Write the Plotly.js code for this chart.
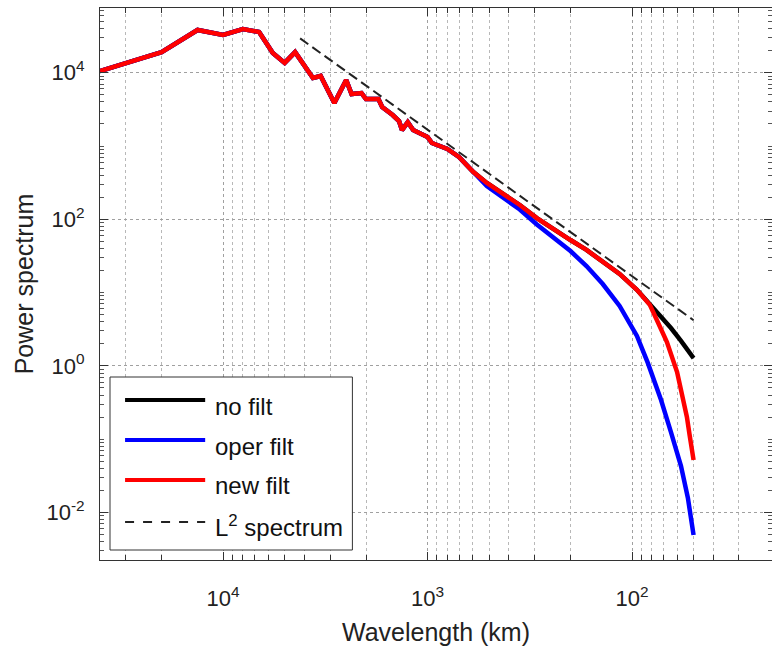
<!DOCTYPE html>
<html>
<head>
<meta charset="utf-8">
<script src="https://cdn.plot.ly/plotly-3.0.1.min.js"></script>
<style>html,body{margin:0;padding:0;background:#fff;overflow:hidden}</style>
</head>
<body>
<div id="chart" style="width:772px;height:653px"></div>
<script>
// ---- Data (wavelength in km, power spectrum) ----
const redWavelength = [40000,20000,13333,10000,8000,6667,5714,5000,4444,3636,3333,2857,2500,2353,2105,2000,1739,1667,1481,1379,1333,1250,1176,1081,1000,952,800,702,597,513,430,354,292,244,200,167,139,115,94.6,81.8,75.6,67.5,60.2,56.3,53.9,52.2,50];
const redPower      = [10540,19100,38300,32700,39500,35900,18600,13600,19100,8470,9020,3860,7950,5120,5280,4370,4370,3400,2650,2190,1650,2120,1650,1500,1330,1100,910,708,442,313,229,157,104,73.8,52.2,38.2,26.2,18.0,10.9,6.8,4.23,2.12,0.826,0.365,0.201,0.111,0.052];

const blackWavelength = [40000,20000,13333,10000,8000,6667,5714,5000,4444,3636,3333,2857,2500,2353,2105,2000,1739,1667,1481,1379,1333,1250,1176,1081,1000,952,800,702,597,513,430,354,292,244,200,167,139,115,94.6,81.8,75.6,72.1,64.5,57.6,50];
const blackPower      = [10540,19100,38300,32700,39500,35900,18600,13600,19100,8470,9020,3860,7950,5120,5280,4370,4370,3400,2650,2190,1650,2120,1650,1500,1330,1100,910,708,442,313,229,157,104,73.8,52.2,38.2,26.2,18.0,10.9,7.0,5.43,4.80,3.29,2.19,1.28];

const blueWavelength = [40000,20000,13333,10000,8000,6667,5714,5000,4444,3636,3333,2857,2500,2353,2105,2000,1739,1667,1481,1379,1333,1250,1176,1081,1000,952,800,702,597,513,430,354,292,244,200,167,139,115,102,94.6,83.7,72.1,64.5,57.6,53.3,50];
const bluePower      = [10540,19100,38300,32700,39500,35900,18600,13600,19100,8470,9020,3860,7950,5120,5280,4370,4370,3400,2650,2190,1650,2120,1650,1500,1330,1100,910,708,440,285,200,136,85,58,36.9,23.0,13.1,6.58,3.62,2.56,1.10,0.343,0.125,0.0431,0.0158,0.00493];

const l2Wavelength = [4200, 50];
const l2Power      = [29400, 4.2];

const seriesNames = ['no filt', 'oper filt', 'new filt', 'L<sup>2</sup> spectrum'];

const xTickVals = [10000, 1000, 100];
const xTickText = ['10<sup>4</sup>', '10<sup>3</sup>', '10<sup>2</sup>'];
const yTickVals = [0.01, 1, 100, 10000];
const yTickText = ['10<sup>-2</sup>', '10<sup>0</sup>', '10<sup>2</sup>', '10<sup>4</sup>'];

// ---- Traces ----
const traces = [
  {x: blackWavelength, y: blackPower, name: seriesNames[0], mode: 'lines', line: {color: '#000000', width: 4.5}},
  {x: blueWavelength,  y: bluePower,  name: seriesNames[1], mode: 'lines', line: {color: '#0000ff', width: 4.5}},
  {x: redWavelength,   y: redPower,   name: seriesNames[2], mode: 'lines', line: {color: '#ff0000', width: 4.5}},
  {x: l2Wavelength,    y: l2Power,    name: seriesNames[3], mode: 'lines', line: {color: '#222222', width: 2, dash: '10px,5px'}}
];

// ---- Manual legend (MATLAB style) ----
const legColors = ['#000000', '#0000ff', '#ff0000', '#222222'];
const legDash = ['solid', 'solid', 'solid', 'dash'];
const legWidth = [4, 4, 4, 2];
const legLineY = [0.2899, 0.2174, 0.1449, 0.0688];
const legTextY = [0.2772, 0.2065, 0.1341, 0.0616];

const shapes = [{
  type: 'rect', xref: 'paper', yref: 'paper', x0: 0.0149, x1: 0.3756, y0: 0.0181, y1: 0.3315,
  line: {color: '#333', width: 1}, fillcolor: '#ffffff', layer: 'above'
}];
const annotations = [];
for (let i = 0; i < 4; i++) {
  shapes.push({type: 'line', xref: 'paper', yref: 'paper', x0: 0.0373, x1: 0.1565, y0: legLineY[i], y1: legLineY[i],
    line: {color: legColors[i], width: legWidth[i], dash: legDash[i]}, layer: 'above'});
  annotations.push({xref: 'paper', yref: 'paper', x: 0.1684, y: legTextY[i], xanchor: 'left', yanchor: 'middle',
    text: seriesNames[i], showarrow: false, font: {size: 24, color: '#111'}});
}

const axisCommon = {
  type: 'log',
  tickmode: 'array',
  ticks: 'inside', ticklen: 8, tickwidth: 1, tickcolor: '#333',
  showline: true, linecolor: '#333', linewidth: 1, mirror: 'ticks',
  showgrid: true, gridcolor: '#a0a0a0', griddash: 'dot', gridwidth: 1,
  zeroline: false,
  tickfont: {size: 22, color: '#222'}
};

const layout = {
  width: 772, height: 653,
  margin: {l: 100, r: 0, t: 8, b: 93, pad: 0},
  paper_bgcolor: '#ffffff', plot_bgcolor: '#ffffff',
  font: {family: '"Liberation Sans", Arial, Helvetica, sans-serif', color: '#222'},
  showlegend: false,
  xaxis: Object.assign({}, axisCommon, {
    range: [Math.log10(40000), Math.log10(20.67)],
    tickvals: xTickVals, ticktext: xTickText,
    ticklabelstandoff: 19,
    minor: {dtick: 'D1', ticks: 'inside', ticklen: 5, tickcolor: '#333', showgrid: true, gridcolor: '#b8b8b8', griddash: 'dot', gridwidth: 1},
    title: {text: 'Wavelength (km)', font: {size: 25, color: '#222'}, standoff: 13}
  }),
  yaxis: Object.assign({}, axisCommon, {
    range: [-2.648, 4.883],
    tickvals: yTickVals, ticktext: yTickText,
    ticklabelstandoff: 10,
    minor: {dtick: 'D1', ticks: 'inside', ticklen: 4, tickcolor: '#555', showgrid: false},
    title: {text: 'Power spectrum', font: {size: 25, color: '#222'}, standoff: 5}
  }),
  shapes: shapes,
  annotations: annotations
};

Plotly.newPlot('chart', traces, layout, {staticPlot: true, displayModeBar: false});
</script>
</body>
</html>
